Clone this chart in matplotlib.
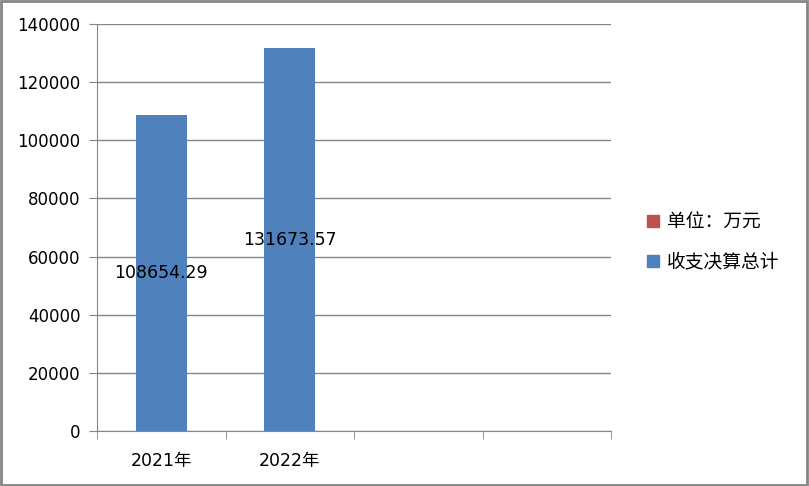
import matplotlib.pyplot as plt
from matplotlib.patches import Rectangle
from matplotlib.lines import Line2D
import numpy as np

plt.rcParams['font.family'] = ['DejaVu Sans', 'Noto Sans CJK SC']

categories = ["2021年", "2022年", "", ""]
total_values = [108654.29, 131673.57]
total_labels = ["108654.29", "131673.57"]
legend_names = ["单位：万元", "收支决算总计"]
y_ticks = [0, 20000, 40000, 60000, 80000, 100000, 120000, 140000]

blue = "#4F81BD"
red = "#C0504D"
grid_grey = "#868686"

fig = plt.figure(figsize=(8.09, 4.86), dpi=100)
ax = fig.add_axes([97 / 809, 1 - 431 / 486, (611 - 97) / 809, (431 - 24) / 486])

x = np.arange(len(total_values))
bars = ax.bar(x, total_values, width=0.4, color=blue, zorder=3)

# data labels sit in the middle of each bar
for xi, val, lab in zip(x, total_values, total_labels):
    ax.text(xi, val / 2, lab, ha="center", va="center", fontsize=12.5,
            color="black", zorder=4)

ax.set_xlim(-0.5, len(categories) - 0.5)
ax.set_ylim(0, 140000)
ax.set_yticks(y_ticks)
ax.set_yticklabels([str(t) for t in y_ticks], fontsize=12)
ax.yaxis.grid(True, color=grid_grey, linewidth=1, zorder=0)

# category labels centred, tick marks on the boundaries
ax.set_xticks(np.arange(len(categories)))
ax.set_xticklabels(categories, fontsize=12.5,
                   family=['DejaVu Sans', 'Noto Sans CJK SC'])
ax.tick_params(axis="x", length=0, pad=15)
ax.set_xticks(np.arange(len(categories) + 1) - 0.5, minor=True)
ax.tick_params(axis="x", which="minor", length=6, color=grid_grey, direction="out")
ax.tick_params(axis="y", length=6, color=grid_grey, direction="out", pad=6)

for side in ["top", "right"]:
    ax.spines[side].set_visible(False)
ax.spines["left"].set_color(grid_grey)
ax.spines["bottom"].set_color(grid_grey)

handles = [Line2D([], [], marker="s", linestyle="none", markersize=8.5,
                  markerfacecolor=c, markeredgecolor=c) for c in (red, blue)]
fig.legend(handles, legend_names, loc="center left",
           bbox_to_anchor=(628 / 809, 1 - 242 / 486), frameon=False,
           prop={"family": ['Noto Sans CJK SC', 'DejaVu Sans'], "size": 13.5},
           handletextpad=0.3, labelspacing=1.0, handlelength=0.9)

# grey frame round the whole chart
fig.patches.append(Rectangle((0.001, 0.002), 0.997, 0.995, transform=fig.transFigure,
                             fill=False, edgecolor=grid_grey, linewidth=2))

fig.savefig("out.png", dpi=100)
